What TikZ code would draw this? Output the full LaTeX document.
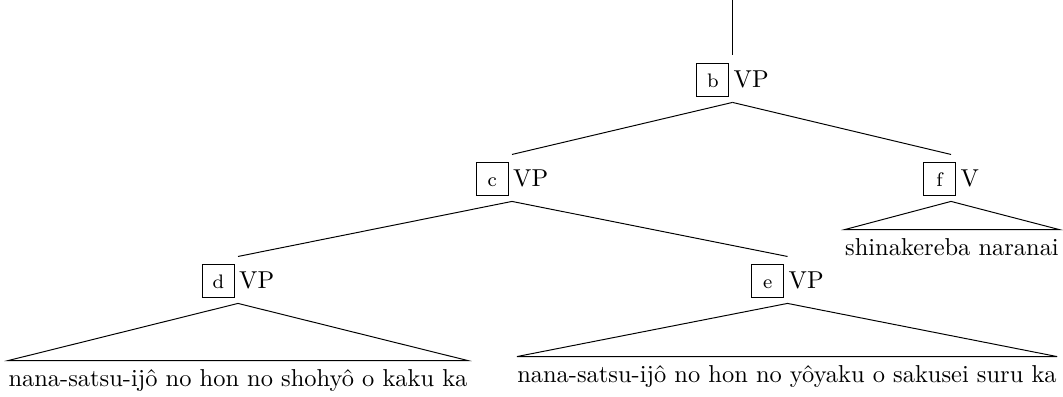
\documentclass[tikz,border=0pt]{standalone}
\usepackage{fontspec}
\newcommand\tagbox[1]{{\setlength\fboxsep{0pt}\setlength\fboxrule{0.4pt}\fbox{\raisebox{0pt}[9.4pt][3.7pt]{\makebox[12.7pt]{\footnotesize #1}}}}}
\begin{document}
\begin{tikzpicture}[x=0.409pt,y=-0.409pt,
  cat/.style={anchor=base, inner xsep=0pt, inner ysep=0pt, text height=12.7pt, text depth=6.1pt},
  leaf/.style={anchor=base, inner xsep=0pt, inner ysep=0pt, text height=10.2pt, text depth=0pt},
  edge/.style={line width=0.4pt}]
\useasboundingbox (0,0) rectangle (1063,396);
\coordinate (top) at (732.5,0);
\node[cat] (b) at (732.5,87) {\tagbox{b}\hspace{1.8pt}VP};
\node[cat] (c) at (512,186) {\tagbox{c}\hspace{1.8pt}VP};
\node[cat] (f) at (951,186) {\tagbox{f}\hspace{1.8pt}V};
\node[cat] (d) at (238,288) {\tagbox{d}\hspace{1.8pt}VP};
\node[cat] (e) at (787.5,288) {\tagbox{e}\hspace{1.8pt}VP};
\node[leaf] (dt) at (238,386) {nana-satsu-ijô no hon no shohyô o kaku ka};
\node[leaf] (et) at (787,382) {nana-satsu-ijô no hon no yôyaku o sakusei suru ka};
\node[leaf] (ft) at (952,255) {shinakereba naranai};
\draw[edge] (top) -- (b.north);
\draw[edge] (b.south) -- (c.north);
\draw[edge] (b.south) -- (f.north);
\draw[edge] (c.south) -- (d.north);
\draw[edge] (c.south) -- (e.north);
\draw[edge] (d.south) -- (dt.north west) -- (dt.north east) -- cycle;
\draw[edge] (e.south) -- (et.north west) -- (et.north east) -- cycle;
\draw[edge] (f.south) -- (ft.north west) -- (ft.north east) -- cycle;
\end{tikzpicture}
\end{document}
